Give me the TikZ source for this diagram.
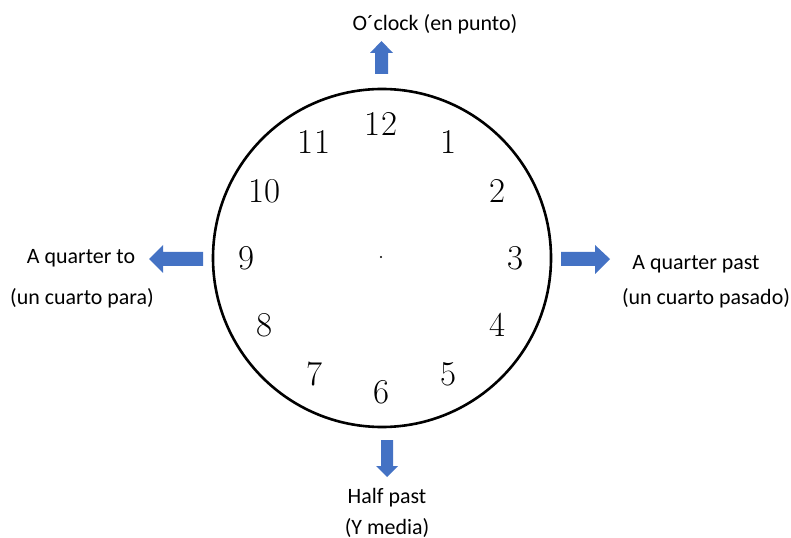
\documentclass[tikz,border=0pt]{standalone}
\usepackage{fontspec}
\usetikzlibrary{calc}
\newfontfamily\labelfont{Carlito}
\definecolor{arrowblue}{HTML}{4472C4}
\begin{document}
\begin{tikzpicture}[x=1bp,y=-1bp,
  lbl/.style={font=\labelfont\fontsize{22}{24}\selectfont, inner sep=0pt, text=black},
  num/.style={font=\fontsize{35}{37}\selectfont, inner sep=0pt},
  blockarrow/.style={fill=arrowblue, draw=none}]
\useasboundingbox (0,0) rectangle (791,538);
% clock face
\node (face) [circle, draw, line width=2.6bp, minimum size=338bp, inner sep=0pt] at (382,258) {};
\fill (381,257) circle (1.1bp);
\coordinate (c) at (381,258);
\foreach \n in {1,...,12}{
  \pgfmathsetmacro\ang{90-30*\n}
  \node[num, text=black, draw=none] (n\n) at ($(c)+(\ang:134bp)$) {\n};
}
% arrows
\fill[blockarrow] (375,74) -- (375,53) -- (370,53) -- (381.5,41) -- (393,53) -- (388,53) -- (388,74) -- cycle;
\fill[blockarrow] (203,252) -- (163,252) -- (163,245) -- (149,259) -- (163,273) -- (163,266) -- (203,266) -- cycle;
\fill[blockarrow] (561,252) -- (595,252) -- (595,245) -- (610,259) -- (595,274) -- (595,266) -- (561,266) -- cycle;
\fill[blockarrow] (381,440) -- (393,440) -- (393,466) -- (398,466) -- (387,477) -- (376,466) -- (381,466) -- cycle;
% labels
\node[lbl] (top) at (435,24) {O´clock (en punto)};
\node[lbl] (l1) at (81,258) {A quarter to};
\node[lbl] (l2) at (82,298) {(un cuarto para)};
\node[lbl] (r1) at (696,264) {A quarter past};
\node[lbl] (r2) at (706,298) {(un cuarto pasado)};
\node[lbl] (b1) at (387,498) {Half past};
\node[lbl] (b2) at (387,528) {(Y media)};
\end{tikzpicture}
\end{document}
